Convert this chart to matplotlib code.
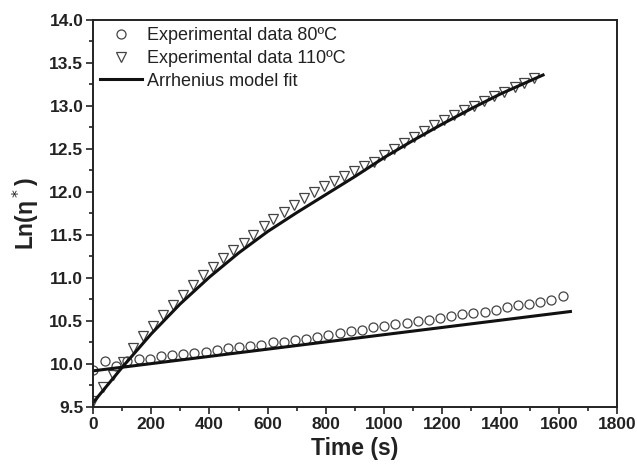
import numpy as np
import matplotlib
matplotlib.use('Agg')
import matplotlib.pyplot as plt
from matplotlib.ticker import MultipleLocator

plt.rcParams['font.family'] = ['Liberation Sans', 'DejaVu Sans']

# Experimental data at 80 C (open circles)
t_80 = [0, 42, 80, 118, 157, 195, 233, 272, 310, 348, 387, 425, 463, 502, 540,
        578, 617, 655, 693, 732, 770, 808, 847, 885, 923, 962, 1000, 1038, 1077,
        1115, 1153, 1192, 1230, 1268, 1307, 1345, 1383, 1422, 1460, 1498, 1537,
        1575, 1613]
y_80 = [9.93, 10.04, 9.98, 10.03, 10.06, 10.06, 10.09, 10.10, 10.12, 10.13,
        10.14, 10.16, 10.19, 10.20, 10.21, 10.22, 10.25, 10.26, 10.28, 10.29,
        10.31, 10.34, 10.36, 10.38, 10.40, 10.43, 10.44, 10.46, 10.48, 10.50,
        10.51, 10.53, 10.56, 10.58, 10.59, 10.61, 10.63, 10.66, 10.68, 10.70,
        10.72, 10.74, 10.79]

# Experimental data at 110 C (open triangles)
t_110 = [0, 34, 69, 103, 138, 172, 207, 241, 276, 310, 345, 379, 413, 448, 482,
         517, 551, 586, 620, 655, 689, 724, 758, 793, 827, 862, 896, 930, 965,
         999, 1034, 1068, 1103, 1137, 1172, 1206, 1241, 1275, 1310, 1344, 1379,
         1413, 1448, 1482, 1516]
y_110 = [9.57, 9.73, 9.87, 10.02, 10.18, 10.32, 10.44, 10.57, 10.69, 10.80,
         10.92, 11.03, 11.13, 11.23, 11.32, 11.41, 11.50, 11.60, 11.69, 11.77,
         11.85, 11.93, 12.00, 12.07, 12.13, 12.19, 12.24, 12.30, 12.35, 12.43,
         12.50, 12.57, 12.64, 12.71, 12.78, 12.84, 12.89, 12.95, 13.00, 13.06,
         13.11, 13.16, 13.22, 13.27, 13.32]

# Arrhenius model fit curves
fit_t_80 = [0, 1640]
fit_y_80 = [9.92, 10.61]
fit_t_110 = [0, 100, 200, 300, 400, 500, 600, 700, 800, 900, 1000, 1100, 1200,
             1300, 1400, 1546]
fit_y_110 = [9.55, 9.96, 10.35, 10.70, 11.01, 11.29, 11.54, 11.76, 11.97,
             12.18, 12.40, 12.60, 12.79, 12.97, 13.14, 13.36]

fig = plt.figure(figsize=(6.37, 4.74), dpi=100)
ax = fig.add_axes([0.146, 0.1414, 0.8226, 0.8165])

ax.plot(t_80, y_80, 'o', mfc='none', mec='#444444', ms=6.5, mew=0.9,
        label='Experimental data 80ºC')
ax.plot(t_110, y_110, 'v', mfc='none', mec='#444444', ms=7, mew=0.9,
        label='Experimental data 110ºC')
ax.plot(fit_t_110, fit_y_110, '-', color='#111111', lw=2.2,
        label='Arrhenius model fit')
ax.plot(fit_t_80, fit_y_80, '-', color='#111111', lw=2.2)

ax.set_xlim(0, 1800)
ax.set_ylim(9.5, 14.0)
ax.xaxis.set_major_locator(MultipleLocator(200))
ax.xaxis.set_minor_locator(MultipleLocator(100))
ax.yaxis.set_major_locator(MultipleLocator(0.5))
ax.yaxis.set_minor_locator(MultipleLocator(0.25))
ax.yaxis.set_major_formatter(matplotlib.ticker.FormatStrFormatter('%.1f'))

ax.tick_params(which='both', direction='out', top=False, right=False,
               color='#222222', width=1.2)
ax.tick_params(which='major', length=5, labelsize=12.5, pad=2)
ax.tick_params(which='minor', length=3)
for lab in ax.get_xticklabels() + ax.get_yticklabels():
    lab.set_fontweight('bold')
    lab.set_color('#222222')
for sp in ax.spines.values():
    sp.set_linewidth(1.4)
    sp.set_color('#222222')

ax.set_xlabel('Time (s)', fontsize=16.5, fontweight='bold', color='#222222',
              labelpad=4)
ax.set_ylabel('Ln(η$^*$)', fontsize=16.5, fontweight='bold', color='#222222',
              labelpad=6)

ax.legend(loc='upper left', frameon=False, fontsize=13, handlelength=2.3,
          handletextpad=0.3, borderaxespad=0.0, labelspacing=0.32,
          labelcolor='#222222')

plt.savefig('out.png', dpi=100)
